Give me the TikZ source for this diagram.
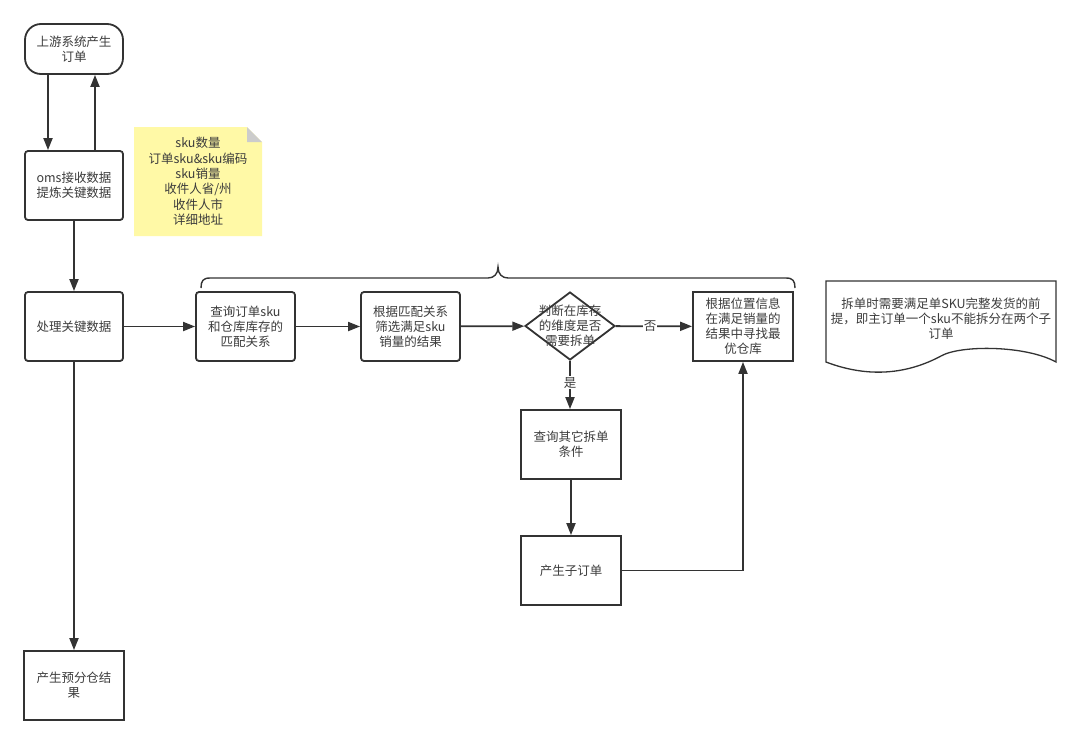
\documentclass[tikz,border=0pt]{standalone}
\usepackage{fontspec}
\setmainfont{Noto Sans CJK SC}
\usetikzlibrary{arrows.meta,shapes.geometric}
\definecolor{ln}{HTML}{333333}
\definecolor{tx}{HTML}{3C3C3C}
\definecolor{notefill}{HTML}{FFF9A6}
\definecolor{foldgray}{HTML}{CCCCCC}
\tikzset{
  box/.style={draw=ln, line width=1.8pt, fill=white, minimum width=98pt, minimum height=69pt, inner sep=2pt, align=center, text=tx, font=\fontsize{12.5pt}{15pt}\selectfont},
  rbox/.style={box, rounded corners=3pt},
  lbl/.style={text=tx, font=\fontsize{12.5pt}{15pt}\selectfont, align=center, inner sep=1pt},
  conn/.style={draw=ln, line width=1.8pt, -{Triangle[length=12pt,width=9pt]}},
  plain/.style={draw=ln, line width=1.6pt},
}
\begin{document}
\begin{tikzpicture}[x=1pt,y=-1pt]
\useasboundingbox[fill=white] (0,0) rectangle (1080,745);
% nodes
\node[box, rounded corners=16pt, minimum height=50pt] (start) at (74,49) {上游系统产生\\订单};
\node[rbox] (oms) at (74,185.5) {oms接收数据\\提炼关键数据};
\node[rbox] (proc) at (74,326.5) {处理关键数据};
\node[box, minimum width=100pt] (res) at (74,685.5) {产生预分仓结\\果};
\node[rbox, minimum width=99pt] (q1) at (245.5,326.5) {查询订单sku\\和仓库库存的\\匹配关系};
\node[rbox, minimum width=99pt] (q2) at (410.5,326.5) {根据匹配关系\\筛选满足sku\\销量的结果};
\node[diamond, draw=ln, line width=1.8pt, fill=white, minimum width=90pt, minimum height=68pt, inner sep=0pt] (dia) at (570,326) {};
\node[lbl] (diat) at (dia) {判断在库存\\的维度是否\\需要拆单};
\node[box, minimum width=100pt] (q3) at (743,326.5) {根据位置信息\\在满足销量的\\结果中寻找最\\优仓库};
\node[box, minimum width=100pt] (q4) at (571,444.5) {查询其它拆单\\条件};
\node[box, minimum width=100pt] (q5) at (571,570.5) {产生子订单};
% note
\fill[notefill] (134,127) -- (247,127) -- (262,142) -- (262,236) -- (134,236) -- cycle;
\fill[foldgray] (247,127) -- (247,142) -- (262,142) -- cycle;
\node[lbl, font=\fontsize{12.5pt}{15.4pt}\selectfont] (note) at (198,181.5) {sku数量\\订单sku\&sku编码\\sku销量\\收件人省/州\\收件人市\\详细地址};
% document shape
\draw[draw=ln, line width=1.3pt, fill=white] (826,281) -- (1056,281) -- (1056,362)
  .. controls (1025,345) and (960,345) .. (941,356)
  .. controls (900,378) and (860,375) .. (826,362) -- cycle;
\node[lbl, text width=230pt] (doc) at (941,319) {拆单时需要满足单SKU完整发货的前\\提，即主订单一个sku不能拆分在两个子\\订单};
% brace
\draw[plain, line width=1.4pt] (201,288) .. controls (201,281) and (203,278) .. (210,278) -- (488,278)
  .. controls (494,278) and (498,274) .. (498,267)
  .. controls (498,274) and (502,278) .. (508,278) -- (786,278)
  .. controls (793,278) and (795,281) .. (795,288);
% connectors
\draw[conn] ([xshift=-26pt]start.south) -- ([xshift=-26pt]oms.north);
\draw[conn] ([xshift=21pt]oms.north) -- ([xshift=21pt]start.south);
\draw[conn] (oms) -- (proc);
\draw[conn] (proc) -- (res);
\draw[conn] (proc) -- (q1);
\draw[conn] (q1) -- (q2);
\draw[conn] (q2) -- (dia);
\draw[conn] (dia) -- node[lbl, fill=white, pos=0.45] {否} (q3);
\draw[conn] (dia.south) -- node[lbl, fill=white, pos=0.45] {是} (dia.south |- q4.north);
\draw[conn] (q4) -- (q5);
\draw[conn] (q5.east) -| (q3.south);
\end{tikzpicture}
\end{document}
